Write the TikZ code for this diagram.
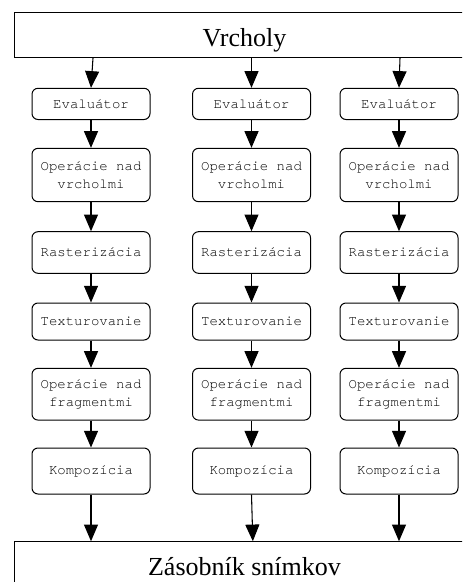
\documentclass[tikz,border=0pt]{standalone}
\usepackage{fontspec}
\setmainfont{Liberation Serif}
\setmonofont{TeX Gyre Cursor}
\usetikzlibrary{arrows.meta}
\begin{document}
\begin{tikzpicture}[x=0.75pt,y=-0.75pt,
  stage/.style={draw, rounded corners=4.5pt, line width=0.75pt, minimum width=88.5pt,
    inner sep=0pt, align=center, font=\fontsize{10.5}{13.5}\selectfont\ttfamily},
  bigbox/.style={draw, line width=0.75pt, minimum width=345pt, inner sep=0pt,
    font=\fontsize{19.5}{22}\selectfont},
  arr/.style={line width=0.8pt, -{Triangle[length=12.5pt,width=10.5pt]}}]
\useasboundingbox (0,0) rectangle (462,582);
\clip (0,0) rectangle (462,582);
\fill[white] (0,0) rectangle (462,582);

\node[bigbox, text height=25.5pt, text depth=8.6pt] (top) at (244.5,34.75) {Vrcholy};
\node[bigbox, text height=25pt, text depth=12pt] (bot) at (244.5,566.4) {Zásobník snímkov};

\foreach \c/\x in {1/91,2/251.5,3/399}{
  \node[stage, minimum height=23.4pt] (e\c) at (\x,103.9) {Evaluátor};
  \node[stage, minimum height=40pt] (v\c) at (\x,175) {Operácie nad\\vrcholmi};
  \node[stage, minimum height=31.2pt] (r\c) at (\x,252.5) {Rasterizácia};
  \node[stage, minimum height=27.75pt] (t\c) at (\x,321.5) {Texturovanie};
  \node[stage, minimum height=38.8pt] (f\c) at (\x,394.2) {Operácie nad\\fragmentmi};
  \node[stage, minimum height=34.5pt] (k\c) at (\x,471) {Kompozícia};
  \draw[arr] (e\c.south) -- (v\c.north);
  \draw[arr] (v\c.south) -- (r\c.north);
  \draw[arr] (r\c.south) -- (t\c.north);
  \draw[arr] (t\c.south) -- (f\c.north);
  \draw[arr] (f\c.south) -- (k\c.north);
}
\draw[arr] ([xshift=1.5pt]e1.north |- top.south) -- (e1.north);
\draw[arr] (e2.north |- top.south) -- (e2.north);
\draw[arr] ([xshift=0.75pt]e3.north |- top.south) -- (e3.north);
\draw[arr] (k1.south) -- (k1.south |- bot.north);
\draw[arr] (k2.south) -- ([xshift=1pt]k2.south |- bot.north);
\draw[arr] (k3.south) -- (k3.south |- bot.north);
\end{tikzpicture}
\end{document}
